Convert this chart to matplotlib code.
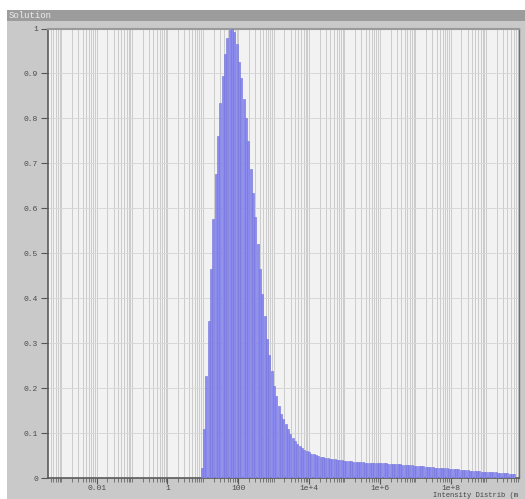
import numpy as np
import matplotlib
matplotlib.use("Agg")
import matplotlib.pyplot as plt
from matplotlib.patches import Rectangle
from matplotlib.ticker import FixedLocator, NullFormatter

# ---------- data ----------
# log-binned intensity distribution, first bin centre at 10**0.966, bins 0.0659 decade wide
first_bin_exp = 0.966
bin_step = 0.0659
heights = [
    0.023, 0.11, 0.227, 0.35, 0.465, 0.577, 0.677, 0.762, 0.835, 0.895,
    0.944, 0.978, 0.996, 1.0, 0.993, 0.966, 0.925, 0.889, 0.844, 0.80,
    0.75, 0.688, 0.635, 0.58, 0.52, 0.465, 0.41, 0.36, 0.31, 0.275,
    0.238, 0.205, 0.182, 0.16, 0.142, 0.131, 0.12, 0.109, 0.098, 0.09,
    0.083, 0.077, 0.072, 0.068, 0.064, 0.061, 0.058, 0.055, 0.053, 0.051,
    0.049, 0.048, 0.047, 0.046, 0.045, 0.044, 0.043, 0.042, 0.041, 0.040,
    0.040, 0.039, 0.039, 0.038, 0.038, 0.037, 0.037, 0.036, 0.036, 0.036,
    0.035, 0.035, 0.035, 0.034, 0.034, 0.034, 0.034, 0.033, 0.033, 0.033,
    0.032, 0.032, 0.032, 0.031, 0.031, 0.031, 0.030, 0.030, 0.029, 0.029,
    0.029, 0.028, 0.028, 0.027, 0.027, 0.027, 0.026, 0.026, 0.025, 0.025,
    0.024, 0.024, 0.023, 0.023, 0.022, 0.022, 0.021, 0.021, 0.021, 0.020,
    0.020, 0.019, 0.019, 0.018, 0.018, 0.017, 0.017, 0.017, 0.016, 0.016,
    0.015, 0.015, 0.015, 0.014, 0.014, 0.013, 0.013, 0.012, 0.012, 0.012,
    0.011, 0.011, 0.010, 0.010, 0.009,
]
x_major = [1e-2, 1e0, 1e2, 1e4, 1e6, 1e8]
x_major_labels = ["0.01", "1", "100", "1e+4", "1e+6", "1e+8"]
y_ticks = [0, 0.1, 0.2, 0.3, 0.4, 0.5, 0.6, 0.7, 0.8, 0.9, 1]
y_tick_labels = ["0", "0.1", "0.2", "0.3", "0.4", "0.5", "0.6", "0.7", "0.8", "0.9", "1"]
title = "Solution"
x_label = "Intensity Distrib (m"

MONO = "Liberation Mono"

# ---------- figure ----------
W, H = 525, 499
fig = plt.figure(figsize=(W / 100, H / 100), dpi=100, facecolor="white")

def px_rect(x0, y0, x1, y1, color):
    # rectangle in pixel coords (origin top-left), kept behind the axes
    fig.patches.append(Rectangle((x0 / W, 1 - y1 / H), (x1 - x0) / W, (y1 - y0) / H,
                                 transform=fig.transFigure, facecolor=color,
                                 edgecolor="none", zorder=-5))

px_rect(7, 10, W, 21, "#9c9c9c")      # title bar
px_rect(7, 21, W, H, "#c9c9c9")       # panel
fig.text(9 / W, 1 - 15.5 / H, title, fontsize=6.5, family=MONO, color="#ececec",
         ha="left", va="center")

ax = fig.add_axes([47.7 / W, 1 - 478.3 / H, (519 - 47.7) / W, (478.3 - 28.5) / H])
ax.set_facecolor("#f2f2f2")
ax.set_xscale("log")
ax.set_xlim(10 ** -3.384, 10 ** 9.93)
ax.set_ylim(0, 1)

# bars (log-width bins)
n = len(heights)
centres = first_bin_exp + bin_step * np.arange(n)
half = bin_step * 0.40
left = 10 ** (centres - half)
right = 10 ** (centres + half)
ax.bar(left, heights, width=right - left, align="edge", color="#8a8aef",
       edgecolor="#7272de", linewidth=0.4, zorder=3)

# ticks
ax.xaxis.set_major_locator(FixedLocator(x_major))
ax.set_xticklabels(x_major_labels)
minor = []
for e in range(-4, 11):
    for s in range(1, 10):
        v = s * 10.0 ** e
        if v not in x_major:
            minor.append(v)
ax.xaxis.set_minor_locator(FixedLocator(minor))
ax.xaxis.set_minor_formatter(NullFormatter())
ax.set_yticks(y_ticks)
ax.set_yticklabels(y_tick_labels)

ax.tick_params(axis="both", which="major", labelsize=5.8, colors="#555555",
               labelcolor="#4a4a4a", length=5, width=0.8, direction="out", pad=2)
ax.tick_params(axis="x", which="major", length=4, pad=1)
ax.tick_params(axis="x", which="minor", length=3, width=0.6, colors="#666666")
for lab in ax.get_xticklabels() + ax.get_yticklabels():
    lab.set_family(MONO)

ax.grid(True, which="both", axis="x", color="#cbcbcb", linewidth=0.7, zorder=0)
ax.grid(True, which="major", axis="y", color="#d8d8d8", linewidth=0.7, zorder=0)
ax.set_axisbelow(True)

for side in ["left", "bottom"]:
    ax.spines[side].set_color("#5a5a5a")
    ax.spines[side].set_linewidth(1.2)
ax.spines["top"].set_color("#9a9a9a")
ax.spines["top"].set_linewidth(1.5)
ax.spines["right"].set_color("#707070")
ax.spines["right"].set_linewidth(1.0)

fig.text(433 / W, 1 - 495.3 / H, x_label, fontsize=5.1, family=MONO, color="#444444",
         ha="left", va="center")

fig.savefig("out.png", dpi=100, facecolor="white")
